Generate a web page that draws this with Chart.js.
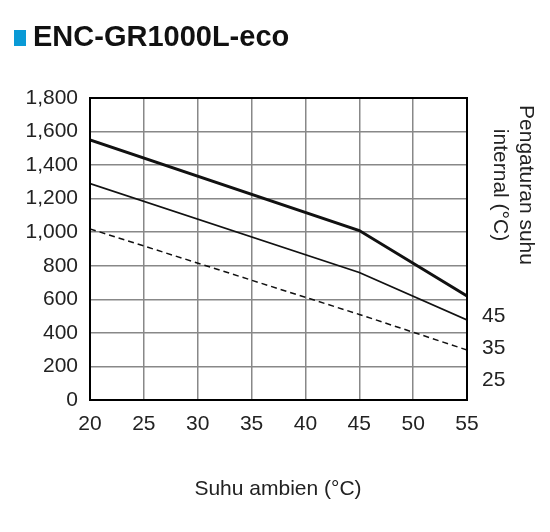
<!DOCTYPE html>
<html><head><meta charset="utf-8">
<script src="https://cdn.jsdelivr.net/npm/chart.js@4/dist/chart.umd.min.js"></script>
<style>html,body{margin:0;padding:0;background:#fff}#w{width:550px;height:532px;position:relative}</style>
</head><body><div id="w"><canvas id="c" width="550" height="532"></canvas></div>
<script>
const xTicks = [20,25,30,35,40,45,50,55];
const setting45 = [{x:20,y:1550},{x:45,y:1010},{x:55,y:620}];
const setting35 = [{x:20,y:1290},{x:45,y:760},{x:55,y:477}];
const setting25 = [{x:20,y:1020},{x:45,y:510},{x:55,y:298}];
const rightLabels = ['45','35','25'];
const rightLabelValues = [500,310,120];
const F = '"Liberation Sans", Arial, sans-serif';
const extra = {
  id:'extra',
  afterDraw(ch){
    const c=ch.ctx,a=ch.chartArea,ys=ch.scales.y;
    c.save();
    c.strokeStyle='#000';c.lineWidth=2;c.strokeRect(a.left,a.top,a.right-a.left,a.bottom-a.top);
    c.fillStyle='#0a9ad6';c.fillRect(14,30,12,16);
    c.fillStyle='#111';c.font='bold 29px '+F;c.textBaseline='alphabetic';c.textAlign='left';
    c.fillText('ENC-GR1000L-eco',33,46);
    c.font='21px '+F;c.fillStyle='#222';c.textBaseline='middle';
    rightLabels.forEach((t,i)=>c.fillText(t,482,ys.getPixelForValue(rightLabelValues[i])));
    c.textAlign='center';c.fillText('Suhu ambien (°C)',278,489);
    c.translate(512,185);c.rotate(Math.PI/2);
    c.fillText('Pengaturan suhu',0,-14);c.fillText('internal (°C)',0,12);
    c.restore();
  }
};
const ds=(d,w,dash)=>({data:d,borderColor:'#111',borderWidth:w,borderDash:dash,pointRadius:0,fill:false,tension:0});
new Chart(document.getElementById('c'),{
  type:'scatter',
  data:{datasets:[ds(setting45,3,[]),ds(setting35,1.8,[]),ds(setting25,1.5,[6,4])]},
  options:{responsive:false,animation:false,showLine:true,devicePixelRatio:1,
    layout:{padding:{left:0,top:98,right:83,bottom:0}},
    plugins:{legend:{display:false},tooltip:{enabled:false}},
    scales:{
      x:{type:'linear',min:20,max:55,afterBuildTicks:s=>{s.ticks=xTicks.map(v=>({value:v}))},
        afterFit:s=>{s.height=132},
        grid:{color:'#888',lineWidth:1.5,drawTicks:false},border:{display:false},
        ticks:{padding:12,color:'#222',font:{family:F,size:21}}},
      y:{min:0,max:1800,afterFit:s=>{s.width=90},
        grid:{color:'#888',lineWidth:1.5,drawTicks:false},border:{display:false},
        ticks:{stepSize:200,padding:12,color:'#222',font:{family:F,size:21}}}
    }},
  plugins:[extra]
});
</script>
</body></html>
